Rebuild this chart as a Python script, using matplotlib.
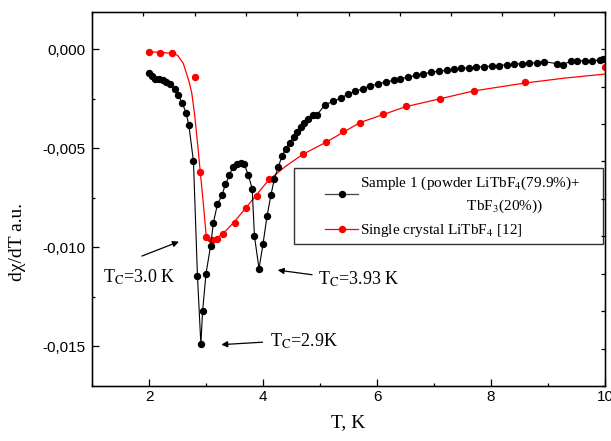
import matplotlib
matplotlib.use("Agg")
import matplotlib.pyplot as plt
from matplotlib.lines import Line2D
from matplotlib.patches import Rectangle

# Sample 1 (powder), black points joined by a line
t_powder = [2.00, 2.05, 2.10, 2.17, 2.24, 2.30, 2.36, 2.45, 2.51, 2.58, 2.65, 2.70,
            2.78, 2.85, 2.91, 2.94, 3.00, 3.08, 3.13, 3.20, 3.28, 3.34, 3.41, 3.47,
            3.54, 3.61, 3.67, 3.74, 3.81, 3.85, 3.93, 4.00, 4.07, 4.14, 4.20, 4.27,
            4.33, 4.40, 4.47, 4.54, 4.60, 4.66, 4.72, 4.79, 4.87, 4.95, 5.09, 5.23,
            5.36, 5.49, 5.62, 5.75, 5.88, 6.02, 6.15, 6.29, 6.41, 6.55, 6.68, 6.81,
            6.95, 7.08, 7.22, 7.35, 7.48, 7.61, 7.74, 7.88, 8.01, 8.14, 8.28, 8.40,
            8.54, 8.67, 8.80, 8.93, 9.15, 9.26, 9.40, 9.51, 9.65, 9.78, 9.91, 9.97]
d_powder = [-1.20, -1.35, -1.48, -1.50, -1.57, -1.65, -1.77, -2.00, -2.30, -2.70, -3.20, -3.84,
            -5.66, -11.43, -14.90, -13.23, -11.33, -9.93, -8.75, -7.83, -7.37, -6.82, -6.36, -5.94,
            -5.81, -5.74, -5.79, -6.33, -7.03, -9.43, -11.08, -9.83, -8.43, -7.34, -6.53, -5.94,
            -5.40, -5.02, -4.71, -4.43, -4.18, -3.92, -3.72, -3.52, -3.33, -3.30, -2.79, -2.63,
            -2.46, -2.27, -2.12, -1.99, -1.84, -1.75, -1.65, -1.57, -1.48, -1.40, -1.31, -1.23,
            -1.16, -1.11, -1.06, -1.01, -0.96, -0.94, -0.89, -0.88, -0.84, -0.82, -0.77, -0.76,
            -0.72, -0.71, -0.67, -0.62, -0.72, -0.77, -0.60, -0.59, -0.57, -0.57, -0.55, -0.47]

# single crystal, red points
t_crystal = [2.0, 2.2, 2.4, 2.81, 2.9, 3.0, 3.1, 3.2, 3.3, 3.5, 3.7, 3.9, 4.1,
             4.7, 5.1, 5.4, 5.7, 6.1, 6.5, 7.1, 7.7, 8.6, 10.0]
d_crystal = [-0.13, -0.17, -0.18, -1.38, -6.20, -9.50, -9.65, -9.60, -9.34, -8.75, -8.01, -7.40, -6.53,
             -5.29, -4.68, -4.14, -3.70, -3.28, -2.88, -2.51, -2.10, -1.67, -0.87]

# red smooth curve through the crystal data
t_fit = [2.0, 2.2, 2.4, 2.5, 2.6, 2.7, 2.75, 2.8, 2.85, 2.9, 2.95, 3.0, 3.05, 3.1, 3.2,
         3.3, 3.5, 3.7, 3.9, 4.1, 4.4, 4.7, 5.1, 5.4, 5.7, 6.1, 6.5, 7.1, 7.7, 8.6, 9.3, 10.0]
d_fit = [-0.13, -0.15, -0.20, -0.30, -0.70, -1.60, -2.20, -3.30, -4.70, -6.20, -7.70, -9.30,
         -9.70, -9.65, -9.50, -9.30, -8.70, -8.00, -7.30, -6.60, -5.90, -5.30, -4.70, -4.20,
         -3.70, -3.30, -2.90, -2.50, -2.10, -1.70, -1.45, -1.25]

scale = 1e-3
d_powder = [v * scale for v in d_powder]
d_crystal = [v * scale for v in d_crystal]
d_fit = [v * scale for v in d_fit]

plt.rcParams['mathtext.fontset'] = 'stix'
serif = 'Liberation Serif'
sans = 'Liberation Sans'

fig = plt.figure(figsize=(6.11, 4.41), dpi=100)
ax = fig.add_axes([92 / 611, 55 / 441, 513 / 611, 374.3 / 441])

ax.plot(t_powder, d_powder, color='black', lw=0.8, marker='o', ms=4.3,
        mec='black', mfc='black', zorder=3)
ax.plot(t_fit, d_fit, color='red', lw=0.9, zorder=2)
ax.plot(t_crystal, d_crystal, ls='none', marker='o', ms=4.3, color='red', zorder=2)

ax.set_xlim(1, 10)
ax.set_ylim(-0.017, 0.0019)
ax.set_xticks([2, 4, 6, 8, 10])
ax.set_xticks([1, 3, 5, 7, 9], minor=True)
ax.set_yticks([0, -0.005, -0.010, -0.015])
ax.set_yticks([-0.0025, -0.0075, -0.0125], minor=True)
ax.set_yticklabels(['0,000', '-0,005', '-0,010', '-0,015'])
ax.tick_params(which='major', direction='in', length=5, width=0.9, labelsize=11)
ax.tick_params(axis='x', which='major', pad=3)
ax.tick_params(axis='y', which='major', pad=5)
ax.tick_params(which='minor', direction='in', length=2.5, width=0.9)
for lab in ax.get_xticklabels() + ax.get_yticklabels():
    lab.set_family(sans)
for s in ax.spines.values():
    s.set_linewidth(1.0)

# extra ticks on top and right frame
ax_top = ax.twiny()
ax_top.set_xlim(0, 10)
ax_top.set_xticks(range(11))
ax_top.tick_params(direction='in', length=3, width=0.9, labeltop=False)
ax_right = ax.twinx()
ax_right.set_ylim(0, 10)
ax_right.set_yticks(range(11))
ax_right.tick_params(direction='in', length=3, width=0.9, labelright=False)

ax.set_xlabel('T, K', family=serif, fontsize=14)
ax.set_ylabel('dχ/dT a.u.', family=serif, fontsize=14)
ax.xaxis.set_label_coords(0.5, -0.075)
ax.yaxis.set_label_coords(-0.128, 0.385)

# annotations
arrow = dict(arrowstyle='-|>', color='black', lw=0.9, mutation_scale=9)
ax.annotate('', xy=(2.57, -0.00966), xytext=(1.83, -0.01049), arrowprops=arrow)
ax.text(1.19, -0.01149, r'T$_{\rm C}$=3.0 K', family=serif, fontsize=13, va='center')
ax.annotate('', xy=(4.21, -0.01113), xytext=(4.91, -0.0114), arrowprops=arrow)
ax.text(4.96, -0.01159, r'T$_{\rm C}$=3.93 K', family=serif, fontsize=13, va='center')
ax.annotate('', xy=(3.22, -0.01492), xytext=(4.04, -0.01478), arrowprops=arrow)
ax.text(4.12, -0.01472, r'T$_{\rm C}$=2.9K', family=serif, fontsize=13, va='center')

# legend
ax.add_patch(Rectangle((0.394, 0.379), 0.602, 0.203, transform=ax.transAxes,
                       fill=True, facecolor='white', edgecolor='#333333', lw=1.0, zorder=4))
h1 = Line2D([], [], color='#444444', lw=0.9, marker='o', ms=4.3, mfc='black', mec='black')
h2 = Line2D([], [], color='red', lw=0.9, marker='o', ms=4.3)
labels = ['Sample 1 (powder LiTbF$_4$(79.9%)+\n' + ' ' * 28 + 'TbF$_3$(20%))',
          'Single crystal LiTbF$_4$ [12]']
leg = ax.legend([h1, h2], labels, loc='upper left', bbox_to_anchor=(0.448, 0.574),
                frameon=False, borderaxespad=0, borderpad=0.2, handlelength=2.2,
                handletextpad=0.1, labelspacing=0.45, prop={'family': serif, 'size': 11})
leg.set_zorder(5)
for txt in leg.get_texts():
    txt.set_linespacing(1.5)

fig.savefig('out.png', dpi=100)
